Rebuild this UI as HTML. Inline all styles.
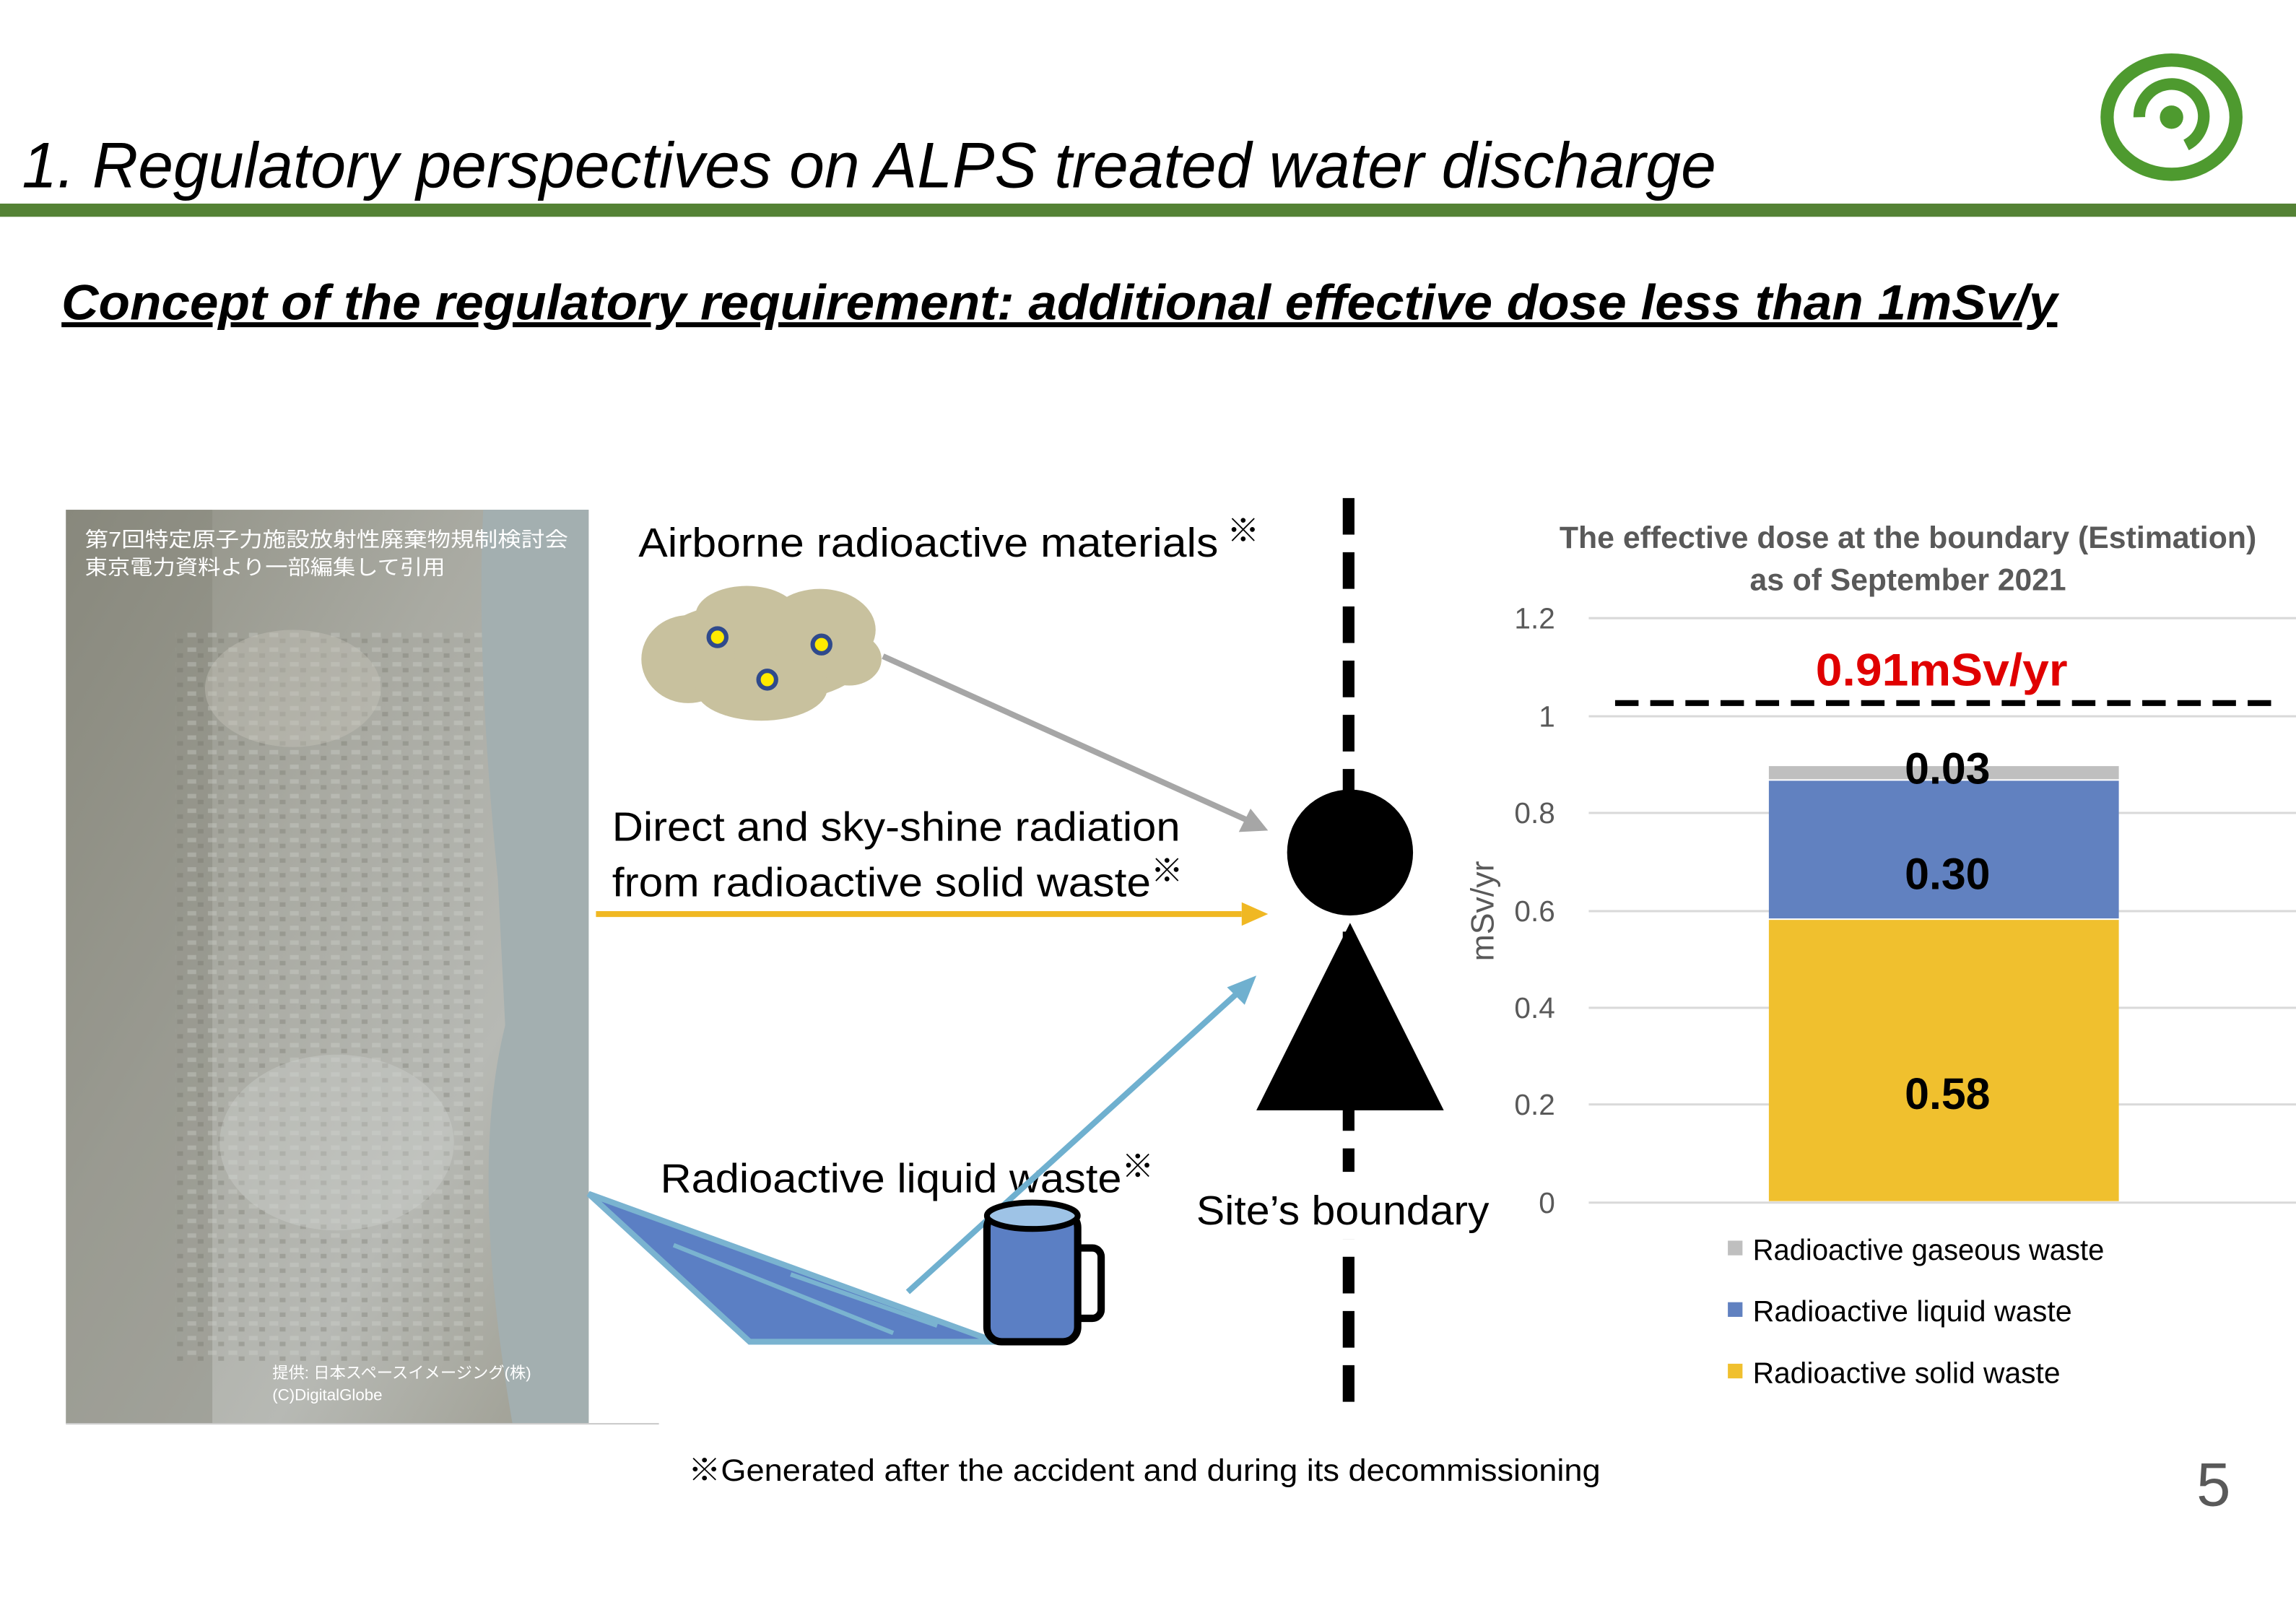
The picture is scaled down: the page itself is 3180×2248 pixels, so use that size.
<!DOCTYPE html>
<html><head><meta charset="utf-8"><style>
html,body{margin:0;padding:0;background:#fff;width:3180px;height:2248px;overflow:hidden}
svg{display:block}
text{font-family:"Liberation Sans","Noto Sans CJK JP",sans-serif}
</style></head><body>
<svg width="3180" height="2248" viewBox="0 0 1568 1108" preserveAspectRatio="none" xmlns="http://www.w3.org/2000/svg">
<defs>
<linearGradient id="land" x1="0" y1="0" x2="1" y2="1">
<stop offset="0" stop-color="#8e8e82"/><stop offset="0.4" stop-color="#a9aaa2"/><stop offset="0.7" stop-color="#b7b9b4"/><stop offset="1" stop-color="#9c9c90"/></linearGradient>
<pattern id="tex" width="14" height="10" patternUnits="userSpaceOnUse"><rect x="2" y="2" width="6" height="3" fill="#d0d2ce" opacity="0.35"/><rect x="9" y="6" width="4" height="3" fill="#6e6e64" opacity="0.3"/></pattern>
</defs>
<text x="15" y="128" font-size="44" font-style="italic" fill="#000" textLength="1157" lengthAdjust="spacingAndGlyphs">1. Regulatory perspectives on ALPS treated water discharge</text>
<rect x="0" y="139" width="1568" height="9" fill="#548235"/>
<g transform="translate(1483,80)">
<ellipse cx="0" cy="0" rx="44" ry="39" fill="none" stroke="#4e9a2f" stroke-width="9"/>
<path d="M-22,0 A22,22 0 1 1 10,19" fill="none" stroke="#4e9a2f" stroke-width="8"/>
<circle cx="0" cy="0" r="8" fill="#4e9a2f"/>
</g>
<text x="42" y="218" font-size="34" font-weight="bold" font-style="italic" fill="#000" text-decoration="underline" textLength="1363" lengthAdjust="spacingAndGlyphs">Concept of the regulatory requirement: additional effective dose less than 1mSv/y</text>
<!-- aerial photo -->
<rect x="45" y="348" width="357" height="624" fill="url(#land)"/>
<rect x="45" y="348" width="100" height="624" fill="#7d7f72" opacity="0.35"/>
<rect x="120" y="430" width="210" height="500" fill="url(#tex)"/>
<ellipse cx="230" cy="780" rx="80" ry="60" fill="#d2d4d0" opacity="0.35"/>
<ellipse cx="200" cy="470" rx="60" ry="40" fill="#c8c6bc" opacity="0.4"/>
<path d="M330,348 L402,348 L402,972 L350,972 Q320,800 345,700 L340,600 Q325,450 330,348z" fill="#a3afb0"/>
<line x1="45" y1="972" x2="450" y2="972" stroke="#ccc"/>
<text x="58" y="373" font-size="14" fill="#fff" textLength="330" lengthAdjust="spacingAndGlyphs">第7回特定原子力施設放射性廃棄物規制検討会</text>
<text x="58" y="392" font-size="14" fill="#fff" textLength="246" lengthAdjust="spacingAndGlyphs">東京電力資料より一部編集して引用</text>
<text x="186" y="941" font-size="11" fill="#fff">提供: 日本スペースイメージング(株)</text>
<text x="186" y="956" font-size="11" fill="#fff">(C)DigitalGlobe</text>
<path d="M402,815 L512,916 L680,916z" fill="#5b7fc4" stroke="#7ab3d0" stroke-width="4"/>
<line x1="460" y1="850" x2="610" y2="910" stroke="#7ab3d0" stroke-width="3"/>
<line x1="540" y1="870" x2="640" y2="905" stroke="#7ab3d0" stroke-width="3"/>
<text x="436" y="380" font-size="28" textLength="396" lengthAdjust="spacingAndGlyphs">Airborne radioactive materials</text>
<text x="838" y="370" font-size="22">※</text>
<text x="418" y="574" font-size="28" textLength="388" lengthAdjust="spacingAndGlyphs">Direct and sky-shine radiation</text>
<text x="418" y="612" font-size="28" textLength="368" lengthAdjust="spacingAndGlyphs">from radioactive solid waste</text>
<text x="786" y="602" font-size="22">※</text>
<text x="451" y="814" font-size="28" textLength="315" lengthAdjust="spacingAndGlyphs">Radioactive liquid waste</text>
<text x="766" y="804" font-size="22">※</text>
<g fill="#c8c19e">
<ellipse cx="520" cy="445" rx="75" ry="35"/><ellipse cx="470" cy="450" rx="32" ry="30"/><ellipse cx="560" cy="430" rx="38" ry="28"/><ellipse cx="520" cy="470" rx="45" ry="22"/><ellipse cx="580" cy="450" rx="22" ry="18"/><ellipse cx="510" cy="420" rx="35" ry="20"/>
</g>
<g fill="#ffea00" stroke="#2f4a8c" stroke-width="3"><circle cx="490" cy="435" r="6"/><circle cx="561" cy="440" r="6"/><circle cx="524" cy="464" r="6"/></g>
<line x1="603" y1="448" x2="852" y2="560" stroke="#a6a6a6" stroke-width="4"/>
<path d="M866,567 L846,568 L854,552z" fill="#a6a6a6"/>
<line x1="407" y1="624" x2="848" y2="624" stroke="#f0b823" stroke-width="4"/>
<path d="M866,624 L848,616 L848,632z" fill="#f0b823"/>
<line x1="620" y1="882" x2="845" y2="678" stroke="#6fb0cf" stroke-width="4"/>
<path d="M858,666 L838,674 L850,686z" fill="#6fb0cf"/>
<rect x="728" y="852" width="24" height="48" rx="6" fill="none" stroke="#000" stroke-width="5"/>
<rect x="674" y="828" width="62" height="88" rx="10" fill="#5b7fc4" stroke="#000" stroke-width="5"/>
<ellipse cx="705" cy="830" rx="31" ry="9" fill="#9ec3e6" stroke="#000" stroke-width="4"/>
<line x1="921" y1="340" x2="921" y2="966" stroke="#000" stroke-width="8" stroke-dasharray="25,12"/>
<rect x="812" y="800" width="212" height="46" fill="#fff"/>
<text x="817" y="836" font-size="28" textLength="200" lengthAdjust="spacingAndGlyphs">Site’s boundary</text>
<circle cx="922" cy="582" r="43" fill="#000"/>
<path d="M922,630 L986,758 L858,758z" fill="#000"/>
<text x="1303" y="374" font-size="21" font-weight="bold" fill="#595959" text-anchor="middle" textLength="476" lengthAdjust="spacingAndGlyphs">The effective dose at the boundary (Estimation)</text>
<text x="1303" y="403" font-size="21" font-weight="bold" fill="#595959" text-anchor="middle" textLength="216" lengthAdjust="spacingAndGlyphs">as of September 2021</text>
<g stroke="#d9d9d9" stroke-width="1.5">
<line x1="1085" y1="422" x2="1568" y2="422"/><line x1="1085" y1="489" x2="1568" y2="489"/><line x1="1085" y1="555" x2="1568" y2="555"/><line x1="1085" y1="622" x2="1568" y2="622"/><line x1="1085" y1="688" x2="1568" y2="688"/><line x1="1085" y1="754" x2="1568" y2="754"/><line x1="1085" y1="821" x2="1568" y2="821"/>
</g>
<g font-size="20" fill="#595959" text-anchor="end">
<text x="1062" y="429">1.2</text><text x="1062" y="496">1</text><text x="1062" y="562">0.8</text><text x="1062" y="629">0.6</text><text x="1062" y="695">0.4</text><text x="1062" y="761">0.2</text><text x="1062" y="828">0</text>
</g>
<text transform="translate(1020,622) rotate(-90)" font-size="22" fill="#595959" text-anchor="middle">mSv/yr</text>
<rect x="1208" y="628" width="239" height="192" fill="#f0c02e"/>
<rect x="1208" y="533" width="239" height="94" fill="#6181c0"/>
<rect x="1208" y="523" width="239" height="9" fill="#bfbfbf"/>
<line x1="1103" y1="480" x2="1552" y2="480" stroke="#000" stroke-width="4" stroke-dasharray="16,8"/>
<text x="1326" y="468" font-size="31" font-weight="bold" fill="#e00000" text-anchor="middle" textLength="172" lengthAdjust="spacingAndGlyphs">0.91mSv/yr</text>
<text x="1330" y="535" font-size="30" font-weight="bold" text-anchor="middle">0.03</text>
<text x="1330" y="607" font-size="30" font-weight="bold" text-anchor="middle">0.30</text>
<text x="1330" y="757" font-size="30" font-weight="bold" text-anchor="middle">0.58</text>
<rect x="1180" y="847" width="10" height="10" fill="#bfbfbf"/>
<text x="1197" y="860" font-size="20" textLength="240" lengthAdjust="spacingAndGlyphs">Radioactive gaseous waste</text>
<rect x="1180" y="889" width="10" height="10" fill="#6181c0"/>
<text x="1197" y="902" font-size="20" textLength="218" lengthAdjust="spacingAndGlyphs">Radioactive liquid waste</text>
<rect x="1180" y="931" width="10" height="10" fill="#f0c02e"/>
<text x="1197" y="944" font-size="20" textLength="210" lengthAdjust="spacingAndGlyphs">Radioactive solid waste</text>
<text x="470" y="1011" font-size="21" textLength="623" lengthAdjust="spacingAndGlyphs">※Generated after the accident and during its decommissioning</text>
<text x="1500" y="1028" font-size="42" fill="#595959">5</text>
</svg>
</body></html>
